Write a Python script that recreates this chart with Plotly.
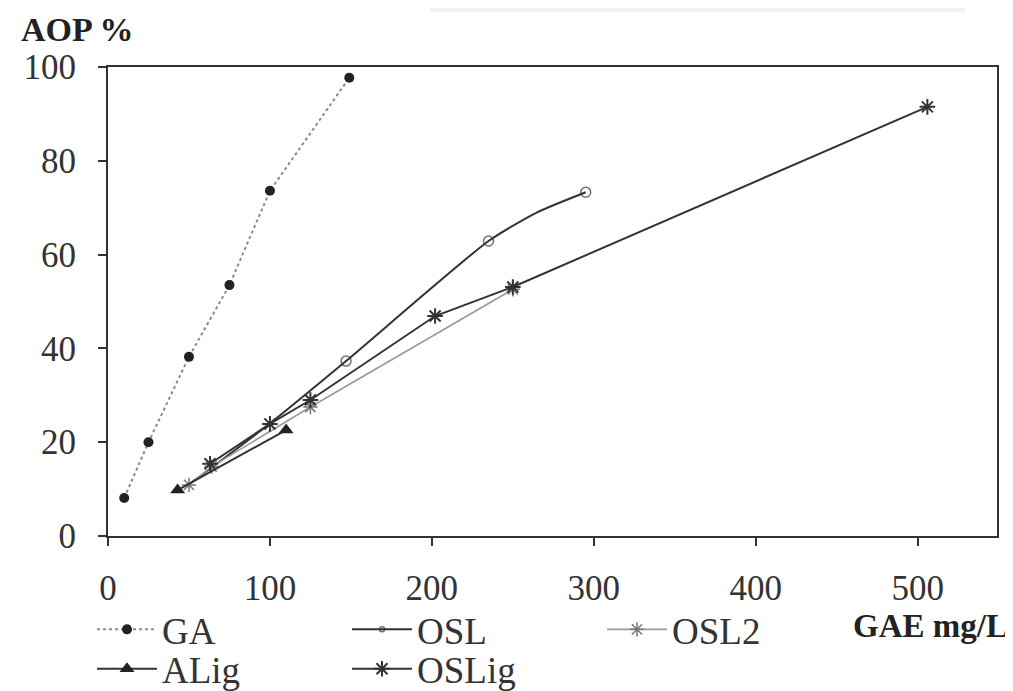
import plotly.graph_objects as go

# Data
ga_x = [10, 25, 50, 75, 100, 149]
ga_y = [8.1, 20.0, 38.2, 53.5, 73.6, 97.7]

osl_x = [50, 100, 147, 235, 265, 295]
osl_y = [11.0, 24.0, 37.3, 62.9, 69.0, 73.3]
osl_marker_sizes = [0, 0, 10, 10, 0, 10]

osl2_x = [50, 64, 125, 250]
osl2_y = [10.9, 14.8, 27.5, 52.6]

alig_x = [43, 110]
alig_y = [9.8, 22.6]

oslig_x = [63, 100, 125, 202, 250, 506]
oslig_y = [15.4, 23.9, 29.0, 46.9, 53.1, 91.5]

x_ticks = [0, 100, 200, 300, 400, 500]
y_ticks = [0, 20, 40, 60, 80, 100]

FONT = "Liberation Serif"
DARK = "#333333"

fig = go.Figure()

fig.add_trace(go.Scatter(
    x=ga_x, y=ga_y, name="GA", mode="lines+markers",
    line=dict(color="#8a8a8a", width=2, dash="dot"),
    marker=dict(symbol="circle", size=10, color="#222222"),
    legend="legend"))
fig.add_trace(go.Scatter(
    x=osl_x, y=osl_y, name="OSL", mode="lines+markers",
    line=dict(color=DARK, width=2, shape="spline", smoothing=0.6),
    marker=dict(symbol="circle-open", size=osl_marker_sizes, color=DARK, line=dict(width=1.5)),
    legend="legend"))
fig.add_trace(go.Scatter(
    x=osl2_x, y=osl2_y, name="OSL2", mode="lines+markers",
    line=dict(color="#9a9a9a", width=1.6),
    marker=dict(symbol="asterisk-open", size=12, color="#777777", line=dict(width=1.5, color="#777777")),
    legend="legend"))
fig.add_trace(go.Scatter(
    x=alig_x, y=alig_y, name="ALig", mode="lines+markers",
    line=dict(color=DARK, width=2),
    marker=dict(symbol="triangle-up", size=13, color="#222222"),
    legend="legend2"))
fig.add_trace(go.Scatter(
    x=oslig_x, y=oslig_y, name="OSLig", mode="lines+markers",
    line=dict(color=DARK, width=2),
    marker=dict(symbol="asterisk-open", size=13, color=DARK, line=dict(width=2, color=DARK)),
    legend="legend2"))

axis_common = dict(
    showgrid=False, zeroline=False, showline=True, linecolor=DARK, linewidth=2,
    mirror=True, ticks="outside", ticklen=8, tickwidth=1.5, tickcolor=DARK,
    automargin=False,
    tickfont=dict(family=FONT, size=35, color="#333333"),
)

legend_common = dict(
    orientation="h", x=-0.018, xanchor="left", yanchor="middle",
    entrywidth=180, entrywidthmode="pixels", bgcolor="rgba(0,0,0,0)",
    font=dict(family=FONT, size=37, color="#333333"), itemwidth=60,
)

# The page body has an 8px default margin; size the figure so it fits the window
fig.update_layout(
    width=1005, height=683,
    margin=dict(l=100, r=16, t=59, b=155, autoexpand=False),
    paper_bgcolor="white", plot_bgcolor="white",
    font=dict(family=FONT, size=35, color="#333333"),
    xaxis=dict(range=[0, 549], tickvals=x_ticks, ticklabelstandoff=12, **axis_common),
    yaxis=dict(range=[0, 100], tickvals=y_ticks, ticklabelstandoff=15, **axis_common),
    legend=dict(y=-0.200, **legend_common),
    legend2=dict(y=-0.284, **legend_common),
    showlegend=True,
    annotations=[
        dict(text="<b>AOP %</b>", x=-0.10, y=1.079, xref="paper", yref="paper",
             xanchor="left", yanchor="middle", showarrow=False,
             font=dict(family=FONT, size=34, color="#222222")),
        dict(text="<b>GAE mg/L</b>", x=1.0146, y=-0.192, xref="paper", yref="paper",
             xanchor="right", yanchor="middle", showarrow=False,
             font=dict(family=FONT, size=33, color="#222222")),
    ],
    shapes=[
        dict(type="rect", xref="paper", yref="paper", x0=0.362, x1=0.964, y0=1.117, y1=1.143,
             fillcolor="#f2f2f2", line=dict(width=0), layer="below"),
    ],
)

fig.write_html("out.html")
